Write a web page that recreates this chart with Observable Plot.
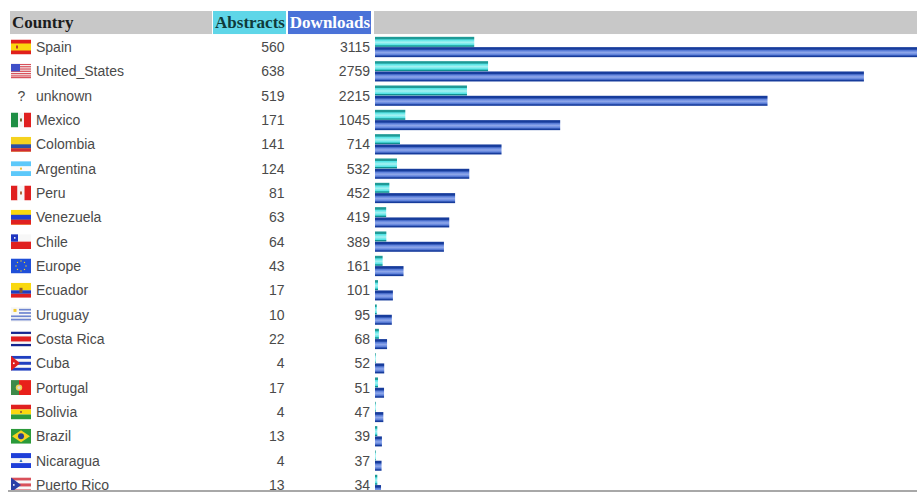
<!DOCTYPE html>
<html><head><meta charset="utf-8">
<script src="https://cdn.jsdelivr.net/npm/d3@7"></script>
<script src="https://cdn.jsdelivr.net/npm/@observablehq/plot@0.6"></script>
<style>
html,body{margin:0;padding:0;background:#fff;overflow:hidden}
svg{display:block}
#base{height:2px;margin-left:8px;background:#a8a8a8}
</style></head><body>
<div id="chart"></div><div id="base"></div>
<script>
const countries = ["Spain","United_States","unknown","Mexico","Colombia","Argentina","Peru","Venezuela","Chile","Europe","Ecuador","Uruguay","Costa Rica","Cuba","Portugal","Bolivia","Brazil","Nicaragua","Puerto Rico"];
const abstracts = [560,638,519,171,141,124,81,63,64,43,17,10,22,4,17,4,13,4,13];
const downloads = [3115,2759,2215,1045,714,532,452,419,389,161,101,95,68,52,51,47,39,37,34];
const headerLabels = ["Country","Abstracts","Downloads"];
const r=(x,y,w,h,c)=>`<rect x="${x}" y="${y}" width="${w}" height="${h}" fill="${c}"/>`;
const flags = [
 r(0,0,20,15,"#e0201c")+r(0,4,20,7,"#fbd70f")+r(5,6,2,3,"#c0392b"),
 r(0,0,20,15,"#f4eeee")+[0,2.3,4.6,6.9,9.2,11.5,13.2].map(y=>r(0,y,20,1.2,"#d9505a")).join("")+r(0,0,9,7.5,"#3f4fc8"),
 null,
 r(0,0,7,15,"#1f8f45")+r(7,0,6,15,"#f5f5f5")+r(13,0,7,15,"#e02020")+r(9,6,2,3,"#7a6a30"),
 r(0,0,20,15,"#f5d21f")+r(0,7.5,20,4,"#2b4fa8")+r(0,11.5,20,3.5,"#cf2b35"),
 r(0,0,20,15,"#5cc8fa")+r(0,5,20,5,"#fafafa")+r(9,6.5,2,2,"#e8c040"),
 r(0,0,6.5,15,"#e02020")+r(6.5,0,7,15,"#f7f7f7")+r(13.5,0,6.5,15,"#e02020")+r(9,6,2,3,"#b06a40"),
 r(0,0,20,15,"#f9d80f")+r(0,5,20,5,"#1f3fd0")+r(0,10,20,5,"#e02020"),
 r(0,0,20,7.5,"#f7f7f7")+r(0,7.5,20,7.5,"#e02020")+r(0,0,7,7.5,"#1f35c0")+r(3,3,1.5,1.5,"#fff"),
 r(0,0,20,15,"#1f4fd8")+[[10,2.5],[13.5,4],[15,7.5],[13.5,11],[10,12.5],[6.5,11],[5,7.5],[6.5,4]].map(p=>r(p[0]-.6,p[1]-.6,1.2,1.2,"#f5d21f")).join(""),
 r(0,0,20,7.5,"#f9d80f")+r(0,7.5,20,3.5,"#1f3fc0")+r(0,11,20,4,"#e02020")+r(8.5,5,3,5,"#8a5a30"),
 r(0,0,20,15,"#f7f7f7")+[1.7,5,8.3,11.6].map(y=>r(0,y,20,1.7,"#6f86d0")).join("")+r(0,0,8,7,"#f7f7f7")+r(2.5,1.8,3,3,"#f0c830"),
 r(0,0,20,15,"#15258f")+r(0,2.5,20,10,"#f7f7f7")+r(0,5,20,5,"#e02020"),
 r(0,0,20,15,"#1f3fc0")+r(0,3,20,3,"#f7f7f7")+r(0,9,20,3,"#f7f7f7")+`<path d="M0 0L9 7.5L0 15Z" fill="#e02020"/>`+r(2,6.7,1.6,1.6,"#fff"),
 r(0,0,8,15,"#3d8a4a")+r(8,0,12,15,"#e8201a")+`<circle cx="8" cy="7.5" r="3.2" fill="#f0d050"/><circle cx="8" cy="7.5" r="1.6" fill="#d8d8d8"/>`,
 r(0,0,20,5,"#e02020")+r(0,5,20,5,"#f9d80f")+r(0,10,20,5,"#2b9a3a")+r(9,6.5,2,2,"#a06a30"),
 r(0,0,20,15,"#2b9a3a")+`<path d="M10 1.5L19 7.5L10 13.5L1 7.5Z" fill="#f5d21f"/><circle cx="10" cy="7.5" r="3" fill="#2a3f90"/>`,
 r(0,0,20,15,"#1f3fd8")+r(0,5,20,5,"#f7f7f7")+`<path d="M10 6L11.5 9H8.5Z" fill="#3070c0"/>`,
 r(0,0,20,15,"#f7f7f7")+[0,6,12].map(y=>r(0,y,20,3,"#d9505a")).join("")+`<path d="M0 0L10 7.5L0 15Z" fill="#2b3fa8"/>`+r(2,6.7,1.6,1.6,"#fff")
];
const table = countries.map((country,i)=>({country,abstracts:abstracts[i],downloads:downloads[i],
  flag: flags[i] && "data:image/svg+xml;utf8,"+encodeURIComponent(`<svg xmlns="http://www.w3.org/2000/svg" viewBox="0 0 20 15" width="20" height="15" preserveAspectRatio="none">${flags[i]}</svg>`)}));
const header = " ";
const mono = {fontFamily:"'Liberation Sans',Arial,sans-serif",fontSize:14,fill:"#4a4a4a"};
const head = {fontFamily:"'Liberation Serif',serif",fontSize:17,fontWeight:"bold"};
const grad=(id,stops)=>()=>{
  const s=d3.create("svg:svg"), g=s.append("defs").append("linearGradient").attr("id",id).attr("x1",0).attr("x2",0).attr("y1",0).attr("y2",1);
  stops.forEach(([o,c])=>g.append("stop").attr("offset",o).attr("stop-color",c));
  return s.select("defs").node();
};
const chart = Plot.plot({
  width:917,height:490,margin:0,marginLeft:0,
  style:{background:"#fff",overflow:"hidden"},
  x:{axis:null,type:"linear",domain:[0,3115],range:[375,927]},
  y:{axis:null,type:"band",domain:[header,...countries],range:[10.5,497.1],padding:0,round:false},
  marks:[
    grad("ga",[[0,"#1f9a96"],[.2,"#1f9a96"],[.3,"#55e4e6"],[.55,"#a8f2f2"],[.8,"#55e4e6"],[.9,"#109090"],[1,"#109090"]]),
    grad("gd",[[0,"#173c9c"],[.2,"#173c9c"],[.35,"#5f82dc"],[.55,"#90a8ea"],[.75,"#5f82dc"],[.9,"#173c9c"],[1,"#173c9c"]]),
    Plot.rect([header],{x1:()=>0,x2:()=>0,y:d=>d,fill:"#c8c8c8",insetLeft:-365,insetRight:163,insetTop:.5,insetBottom:.8}),
    Plot.rect([header],{x1:()=>0,x2:()=>0,y:d=>d,fill:"#5fd6e8",insetLeft:-162,insetRight:89,insetTop:.5,insetBottom:.8}),
    Plot.rect([header],{x1:()=>0,x2:()=>0,y:d=>d,fill:"#4a72d8",insetLeft:-87,insetRight:4,insetTop:.5,insetBottom:.8}),
    Plot.barX([header],{x1:()=>0,x2:()=>3115,y:d=>d,fill:"#c8c8c8",insetLeft:-1,insetTop:.5,insetBottom:.8}),
    Plot.text([headerLabels[0]],{x:()=>0,y:()=>header,text:d=>d,dx:-363.5,dy:-.5,textAnchor:"start",fill:"#1c1c1c",...head}),
    Plot.text([headerLabels[1]],{x:()=>0,y:()=>header,text:d=>d,dx:-125.5,dy:-.5,fill:"#0f3a3a",...head}),
    Plot.text([headerLabels[2]],{x:()=>0,y:()=>header,text:d=>d,dx:-45.5,dy:-.5,fill:"#fff",...head}),
    Plot.barX(table,{x:"abstracts",y:"country",fill:"url(#ga)",insetTop:2,insetBottom:12.3}),
    Plot.barX(table,{x:"downloads",y:"country",fill:"url(#gd)",insetTop:12.3,insetBottom:2}),
    Plot.image(table.filter(d=>d.flag),{x:()=>0,y:"country",src:"flag",width:20,height:15,dx:-354.5,dy:-.5,preserveAspectRatio:"none"}),
    Plot.text(table.filter(d=>!d.flag),{x:()=>0,y:"country",text:()=>"?",dx:-354,...mono}),
    Plot.text(table,{x:()=>0,y:"country",text:"country",dx:-339.5,textAnchor:"start",...mono}),
    Plot.text(table,{x:()=>0,y:"country",text:d=>String(d.abstracts),dx:-91,textAnchor:"end",...mono}),
    Plot.text(table,{x:()=>0,y:"country",text:d=>String(d.downloads),dx:-5.5,textAnchor:"end",...mono})
  ]
});
document.getElementById("chart").append(chart);
</script></body></html>
